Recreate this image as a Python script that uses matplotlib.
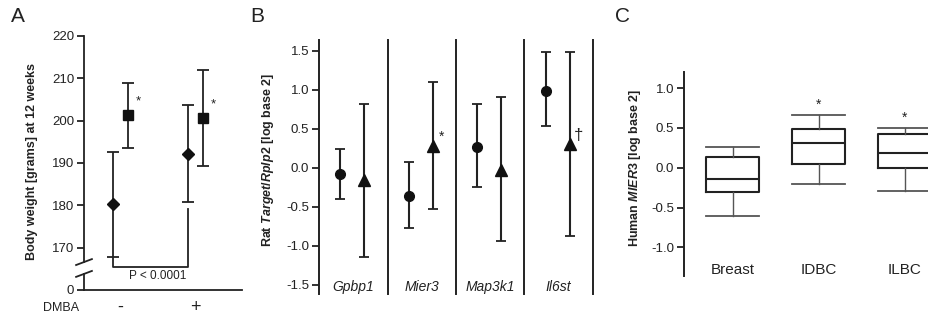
import numpy as np
import matplotlib
matplotlib.use("Agg")
import matplotlib.pyplot as plt

#~~~~~~~~~~~~~~~~~~~~~~~~~~~~~~~~~~~~~~~~~~~~~~~~~~

# DATA

# panel A: body weight, groups DMBA - / +
groupLabels = ["-", "+"]
diamondMean = [180.3, 192.2]
diamondHigh = [192.5, 203.8]
diamondLow  = [167.9, 180.9]
squareMean  = [201.4, 200.6]
squareHigh  = [208.8, 211.9]
squareLow   = [193.5, 189.4]

# panel B: rat target / Rplp2
genes = ["Gpbp1", "Mier3", "Map3k1", "Il6st"]
circleMean = [-0.08, -0.36, 0.27, 0.99]
circleHigh = [0.24, 0.08, 0.82, 1.48]
circleLow  = [-0.40, -0.77, -0.25, 0.53]
triMean    = [-0.16, 0.28, -0.03, 0.30]
triHigh    = [0.82, 1.10, 0.91, 1.49]
triLow     = [-1.14, -0.53, -0.94, -0.87]
triMarks   = ["", "*", "", "\u2020"]

# panel C: human MIER3 boxplots
boxLabels = ["Breast", "IDBC", "ILBC"]
whiskHigh = [0.26, 0.66, 0.50]
boxHigh   = [0.13, 0.49, 0.43]
boxMed    = [-0.14, 0.31, 0.19]
boxLow    = [-0.31, 0.05, 0.00]
whiskLow  = [-0.60, -0.20, -0.29]
boxMarks  = ["", "*", "*"]

#~~~~~~~~~~~~~~~~~~~~~~~~~~~~~~~~~~~~~~~~~~~~~~~~~~

# SETTINGS

plt.rcParams["font.family"] = ["Liberation Sans", "DejaVu Sans"]
plt.rcParams["mathtext.fontset"] = "custom"
plt.rcParams["mathtext.rm"] = "Liberation Sans:bold"
plt.rcParams["mathtext.it"] = "Liberation Sans:bold:italic"
plt.rcParams["mathtext.bf"] = "Liberation Sans:bold"

INK = "#222222"
TICKFONT = 9.5
LW = 1.3

W, H = 929, 320

def box(left, top, right, bottom):
    # pixel box -> figure fraction
    return [left / W, 1 - bottom / H, (right - left) / W, (bottom - top) / H]

def yticks(axis):
    axis.tick_params(axis="y", direction="out", length=5, width=LW, color=INK,
                     labelsize=TICKFONT, labelcolor=INK, pad=2)

figure = plt.figure(figsize=(W / 100, H / 100), dpi=100)

#~~~~~~~~~~~~~~~~~~~~~~~~~~~~~~~~~~~~~~~~~~~~~~~~~~

# PANEL A

axA = figure.add_axes(box(84, 36, 242, 290))
ZERO = 160   # axis break: 0 is drawn at 160

axA.set_xlim(0.513, 2.62)
axA.set_ylim(ZERO, 220)

xs = np.arange(1, len(groupLabels) + 1)
d = np.array(diamondMean)
s = np.array(squareMean)
axA.errorbar(xs - 0.1, d, yerr=[d - np.array(diamondLow), np.array(diamondHigh) - d],
             fmt="D", ms=6.5, color=INK, mfc="#111111", mec="#111111",
             elinewidth=LW, capsize=4.5, capthick=LW)
axA.errorbar(xs + 0.1, s, yerr=[s - np.array(squareLow), np.array(squareHigh) - s],
             fmt="s", ms=7.5, color=INK, mfc="#111111", mec="#111111",
             elinewidth=LW, capsize=4.5, capthick=LW)
for x, m in zip(xs, squareMean):
    axA.text(x + 0.233, m + 3.2, "*", fontsize=9.5, ha="center", va="center", color=INK)

# bracket with p value
axA.plot([xs[0] - 0.1, xs[0] - 0.1, xs[1] - 0.1, xs[1] - 0.1],
         [diamondLow[0], 165.4, 165.4, 179.1], color=INK, lw=LW)
axA.text(1.5, 163.4, "P < 0.0001", fontsize=8.5, ha="center", va="center", color=INK)

axA.spines[["top", "right", "left"]].set_visible(False)
axA.spines["bottom"].set_color(INK)
axA.spines["bottom"].set_linewidth(LW)

# broken y axis
yax = axA.get_yaxis_transform()
axA.plot([0, 0], [166.6, 220], color=INK, lw=LW, transform=yax, clip_on=False)
axA.plot([0, 0], [ZERO, 163.8], color=INK, lw=LW, transform=yax, clip_on=False)
for yc in [166.6, 163.8]:
    axA.plot([-0.05, 0.05], [yc - 0.7, yc + 0.7], color=INK, lw=LW,
             transform=yax, clip_on=False)

axA.set_yticks([ZERO, 170, 180, 190, 200, 210, 220])
axA.set_yticklabels(["0", "170", "180", "190", "200", "210", "220"])
axA.set_xticks([])
yticks(axA)

axA.text(-0.03, -0.07, "DMBA", transform=axA.transAxes, fontsize=9,
         ha="right", va="center", color=INK)
for x, lab in zip(xs, groupLabels):
    axA.text(x, -0.07, lab, transform=axA.get_xaxis_transform(), fontsize=13,
             ha="center", va="center", color=INK)

figure.text(32 / W, 1 - 162 / H, "Body weight [grams] at 12 weeks", rotation=90,
            fontsize=9, fontweight="bold", ha="center", va="center", color=INK)
figure.text(18 / W, 1 - 16 / H, "A", fontsize=15, ha="center", va="center", color=INK)

#~~~~~~~~~~~~~~~~~~~~~~~~~~~~~~~~~~~~~~~~~~~~~~~~~~

# PANEL B

axB = figure.add_axes(box(319, 40, 593, 294))
axB.set_xlim(0, len(genes))
axB.set_ylim(-1.62, 1.64)

gx = np.arange(len(genes))
c = np.array(circleMean)
t = np.array(triMean)
axB.errorbar(gx + 0.31, c, yerr=[c - np.array(circleLow), np.array(circleHigh) - c],
             fmt="o", ms=7, color=INK, mfc="#111111", mec="#111111",
             elinewidth=LW + 0.2, capsize=3.5, capthick=LW)
axB.errorbar(gx + 0.66, t, yerr=[t - np.array(triLow), np.array(triHigh) - t],
             fmt="^", ms=8, color=INK, mfc="#111111", mec="#111111",
             elinewidth=LW + 0.2, capsize=3.5, capthick=LW)
for x, y, m in zip(gx, triMean, triMarks):
    if m:
        axB.text(x + 0.79, y + 0.12, m, fontsize=12 if m == "\u2020" else 10,
                 ha="center", va="center", color=INK)

for i in range(1, len(genes) + 1):
    axB.axvline(i, color=INK, lw=LW + 0.1, clip_on=False)

for x, g in zip(gx, genes):
    axB.text(x + 0.5, 0.012, g, transform=axB.get_xaxis_transform(), fontsize=10,
             style="italic", ha="center", va="baseline", color=INK)

axB.spines[["top", "right", "bottom"]].set_visible(False)
axB.spines["left"].set_color(INK)
axB.spines["left"].set_linewidth(LW + 0.1)
axB.set_xticks([])
axB.set_yticks([-1.5, -1.0, -0.5, 0.0, 0.5, 1.0, 1.5])
axB.set_yticklabels(["-1.5", "-1.0", "-0.5", "0.0", "0.5", "1.0", "1.5"])
yticks(axB)

figure.text(268 / W, 1 - 160 / H, r"Rat $Target/Rplp2$ [log base 2]", rotation=90,
            fontsize=9, fontweight="bold", ha="center", va="center", color=INK)
figure.text(257 / W, 1 - 16 / H, "B", fontsize=15, ha="center", va="center", color=INK)

#~~~~~~~~~~~~~~~~~~~~~~~~~~~~~~~~~~~~~~~~~~~~~~~~~~

# PANEL C

axC = figure.add_axes(box(684, 71.5, 684 + (3.5 - 0.434) * 86, 276))
axC.set_xlim(0.434, 3.5)
axC.set_ylim(-1.36, 1.21)

stats = []
for i in range(len(boxLabels)):
    stats.append({"med": boxMed[i], "q1": boxLow[i], "q3": boxHigh[i],
                  "whislo": whiskLow[i], "whishi": whiskHigh[i],
                  "fliers": [], "label": boxLabels[i]})
cx = np.arange(1, len(boxLabels) + 1)
axC.bxp(stats, positions=cx, widths=0.62, capwidths=0.62, showfliers=False,
        boxprops=dict(color=INK, lw=1.5),
        medianprops=dict(color=INK, lw=1.5),
        whiskerprops=dict(color="#555555", lw=1.0),
        capprops=dict(color="#555555", lw=1.3))
for x, hi, m in zip(cx, whiskHigh, boxMarks):
    if m:
        axC.text(x, hi + 0.04, m, fontsize=10, ha="center", va="bottom", color=INK)

for x, lab in zip(cx, boxLabels):
    axC.text(x, -1.37, lab, fontsize=11, ha="center", va="bottom", color=INK)

axC.spines[["top", "right", "bottom"]].set_visible(False)
axC.spines["left"].set_color(INK)
axC.spines["left"].set_linewidth(LW + 0.1)
axC.set_xticks([])
axC.set_yticks([-1.0, -0.5, 0.0, 0.5, 1.0])
axC.set_yticklabels(["-1.0", "-0.5", "0.0", "0.5", "1.0"])
yticks(axC)

figure.text(635 / W, 1 - 168 / H, r"Human $MIER3$ [log base 2]", rotation=90,
            fontsize=9, fontweight="bold", ha="center", va="center", color=INK)
figure.text(622 / W, 1 - 16 / H, "C", fontsize=15, ha="center", va="center", color=INK)

#~~~~~~~~~~~~~~~~~~~~~~~~~~~~~~~~~~~~~~~~~~~~~~~~~~

# SAVING

figure.savefig("out.png", dpi=100)
